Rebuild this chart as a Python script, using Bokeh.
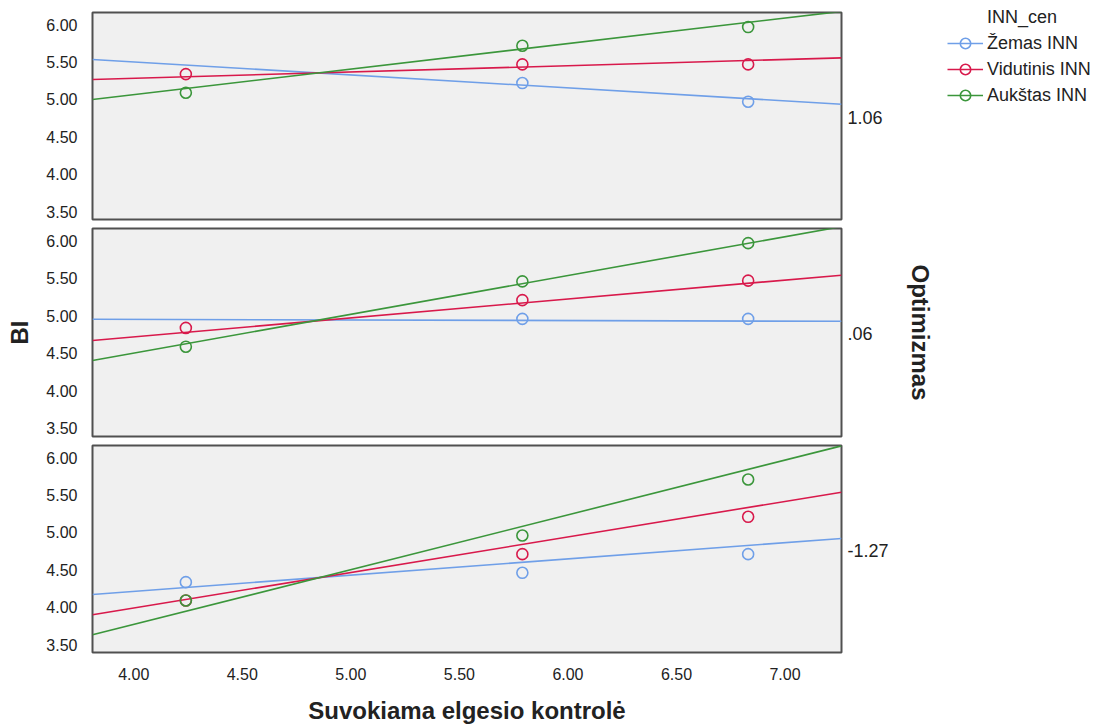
from bokeh.plotting import figure
from bokeh.layouts import column, row
from bokeh.models import (ColumnDataSource, LinearAxis, FixedTicker, PrintfTickFormatter,
                          Range1d, Legend, LegendItem)
from bokeh.embed import file_html
from bokeh.resources import INLINE

nan = float("nan")

# ---- data -------------------------------------------------------------
x_levels = [4.24, 5.79, 6.83]          # perceived behavioural control levels
x_limits = [3.81, 7.26]
y_limits = [3.393, 6.165]
x_ticks = [4.0, 4.5, 5.0, 5.5, 6.0, 6.5, 7.0]
y_ticks = [3.5, 4.0, 4.5, 5.0, 5.5, 6.0]

legend_title = "INN_cen"
groups = ["Žemas INN", "Vidutinis INN", "Aukštas INN"]
colors = ["#6f9fe8", "#d8194b", "#3b963b"]
optimism_levels = ["1.06", ".06", "-1.27"]

# cell means of BI, one row per optimism level
means_zemas = [[nan, 5.22, 4.97], [nan, 4.96, 4.96], [4.335, 4.46, 4.71]]
means_vidutinis = [[5.34, 5.47, 5.47], [4.84, 5.21, 5.47], [4.09, 4.71, 5.21]]
means_aukstas = [[5.09, 5.72, 5.97], [4.59, 5.46, 5.97], [4.09, 4.96, 5.71]]

# fitted simple-slope lines: value at the left and right end of the x axis
fit_left_zemas = [5.535, 4.955, 4.17]
fit_right_zemas = [4.937, 4.928, 4.92]
fit_left_vidutinis = [5.268, 4.673, 3.898]
fit_right_vidutinis = [5.558, 5.543, 5.54]
fit_left_aukstas = [5.00, 4.406, 3.63]
fit_right_aukstas = [6.18, 6.19, 6.16]

means = [means_zemas, means_vidutinis, means_aukstas]
fit_left = [fit_left_zemas, fit_left_vidutinis, fit_left_aukstas]
fit_right = [fit_right_zemas, fit_right_vidutinis, fit_right_aukstas]

# ---- style ------------------------------------------------------------
FONT = "Liberation Sans"
TEXT = "#222222"
heights = [223, 217, 286]
top_borders = [12, 5, 5]
bottom_borders = [4, 4, 74]


def style_ticks(ax, standoff):
    ax.axis_line_color = None
    ax.major_tick_line_color = None
    ax.minor_tick_line_color = None
    ax.major_label_standoff = standoff
    ax.major_label_text_font = FONT
    ax.major_label_text_color = TEXT


def style_title(ax, text, standoff):
    ax.axis_label = text
    ax.axis_label_standoff = standoff
    ax.axis_label_text_font = FONT
    ax.axis_label_text_font_size = "24px"
    ax.axis_label_text_font_style = "bold"
    ax.axis_label_text_color = TEXT


panels = []
line_sources = []
point_sources = []
for i, level in enumerate(optimism_levels):
    last = i == len(optimism_levels) - 1
    p = figure(width=940, height=heights[i],
               x_range=Range1d(*x_limits), y_range=Range1d(*y_limits),
               output_backend="svg", toolbar_location=None,
               x_axis_location="below" if last else None,
               y_axis_location="left",
               min_border_left=92, min_border_right=99,
               min_border_top=top_borders[i], min_border_bottom=bottom_borders[i])
    p.background_fill_color = "#f0f0f0"
    p.border_fill_color = "white"
    p.outline_line_color = "#505050"
    p.outline_line_width = 2
    p.grid.visible = False

    yax = p.yaxis[0]
    yax.ticker = FixedTicker(ticks=y_ticks)
    yax.formatter = PrintfTickFormatter(format="%.2f")
    style_ticks(yax, 9)
    yax.major_label_text_font_size = "16px"

    if last:
        xax = p.xaxis[0]
        xax.ticker = FixedTicker(ticks=x_ticks)
        xax.formatter = PrintfTickFormatter(format="%.2f")
        style_ticks(xax, 9)
        xax.major_label_text_font_size = "16px"
        style_title(xax, "Suvokiama elgesio kontrolė", 14)

    # optimism level written beside each panel
    mid = 4.76
    rax = LinearAxis(ticker=FixedTicker(ticks=[mid]),
                     major_label_overrides={mid: level})
    style_ticks(rax, 0)
    rax.major_label_text_font_size = "18px"
    if i == 1:
        style_title(rax, "Optimizmas", 31)
        style_title(yax, "BI", 10)
    p.add_layout(rax, "right")

    for g in range(len(groups)):
        line_src = ColumnDataSource(dict(x=x_limits, y=[fit_left[g][i], fit_right[g][i]]))
        pt_src = ColumnDataSource(dict(x=x_levels, y=means[g][i]))
        p.line("x", "y", source=line_src, line_color=colors[g], line_width=1.6)
        p.scatter("x", "y", source=pt_src, marker="circle", size=11,
                  fill_color=None, line_color=colors[g], line_width=1.6)
        if i == 0:
            line_sources.append(line_src)
            point_sources.append(pt_src)
    panels.append(p)

# legend drawn in its own narrow canvas to the right of the panels
key = figure(width=155, height=110, x_range=Range1d(0, 1), y_range=Range1d(0, 1),
             output_backend="svg", toolbar_location=None,
             x_axis_location=None, y_axis_location=None,
             min_border=0)
key.outline_line_color = None
key.grid.visible = False
key.background_fill_color = "white"
key.border_fill_color = "white"

items = [LegendItem(label=legend_title, renderers=[key.scatter([], [], size=1, alpha=0)])]
for g, name in enumerate(groups):
    # the legend proxies reuse the top panel's data, which lies outside this canvas' ranges
    ln = key.line("x", "y", source=line_sources[g], line_color=colors[g], line_width=1.6)
    sc = key.scatter("x", "y", source=point_sources[g], marker="circle", size=15,
                     fill_color=None, line_color=colors[g], line_width=1.6)
    items.append(LegendItem(label=name, renderers=[ln, sc]))

legend = Legend(items=items, location=(7, 2),
                glyph_width=36, glyph_height=26, label_height=26,
                spacing=0, padding=0, margin=0, label_standoff=4,
                label_text_font=FONT, label_text_font_size="18px",
                label_text_color=TEXT,
                border_line_color=None, background_fill_alpha=0)
key.add_layout(legend, "center")

layout = row(column(*panels, spacing=0), key, spacing=0)
open("out.html", "w").write(file_html(layout, INLINE))
